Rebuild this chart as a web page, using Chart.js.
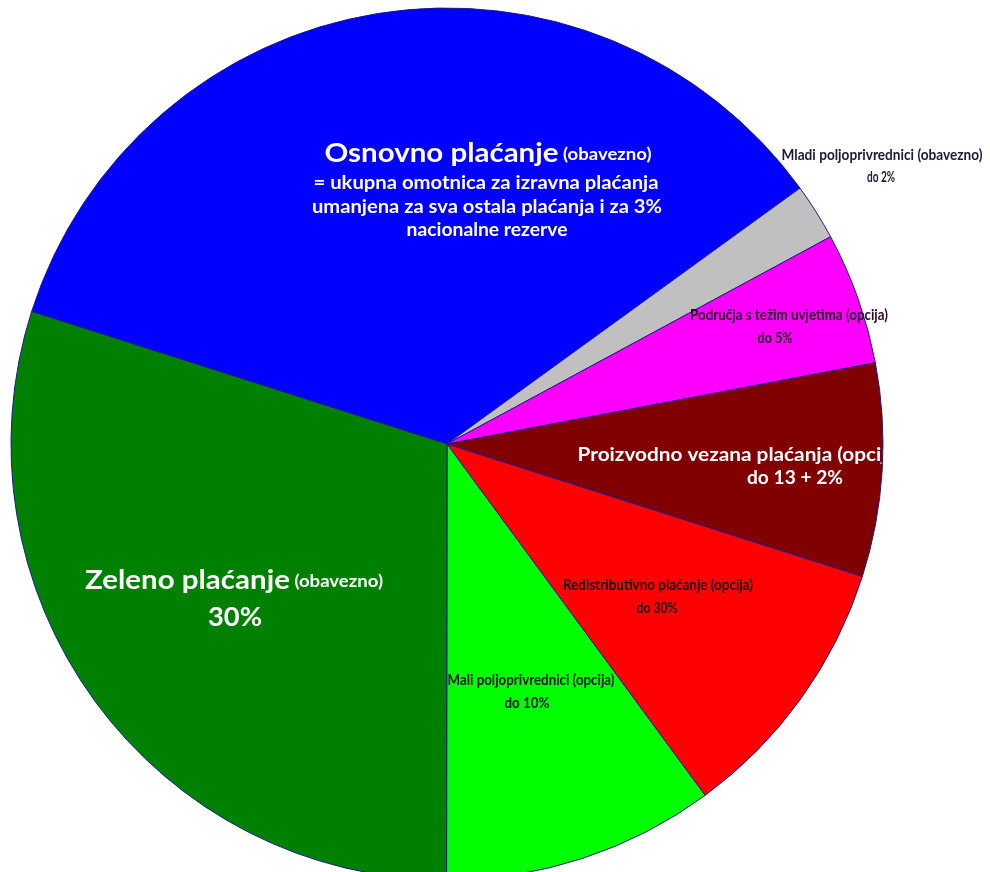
<!DOCTYPE html>
<html lang="hr">
<head>
  <meta charset="UTF-8">
  <title>Izravna plaćanja</title>
  <script src="https://cdn.jsdelivr.net/npm/chart.js"></script>
  <style>
    html, body { margin: 0; padding: 0; background: #fff; overflow: hidden; }
    .wrap { width: 990px; height: 888px; }
  </style>
</head>
<body>
  <div class="wrap">
    <canvas id="pieChart" width="990" height="888"></canvas>
  </div>
  <script>
    // Podaci (udjeli u %), redom u smjeru kazaljke na satu
    const kategorije = [
      'Osnovno plaćanje',
      'Mladi poljoprivrednici',
      'Područja s težim uvjetima',
      'Proizvodno vezana plaćanja',
      'Redistributivno plaćanje',
      'Mali poljoprivrednici',
      'Zeleno plaćanje'
    ];
    const udjeli = [35.1, 2.1, 4.9, 7.9, 10.0, 10.1, 29.9];
    const boje = ['#0000ff', '#c0c0c0', '#ff00ff', '#800000', '#ff0000', '#00ff00', '#008000'];

    // Tekstovi natpisa (po kategoriji), svaki redak = niz [tekst, stil]
    const natpisi = [
      [[['Osnovno plaćanje', 'big'], [' (obavezno)', 'small']],
       [['= ukupna omotnica za izravna plaćanja', 'mid']],
       [['umanjena za sva ostala plaćanja i za 3%', 'mid']],
       [['nacionalne rezerve', 'mid']]],
      [[['Mladi poljoprivrednici (obavezno)', 'cond']], [['do 2%', 'cond']]],
      [[['Područja s težim uvjetima (opcija)', 'cond']], [['do 5%', 'cond']]],
      [[['Proizvodno vezana plaćanja (opcija)', 'mid']], [['do 13 + 2%', 'mid']]],
      [[['Redistributivno plaćanje (opcija)', 'cond']], [['do 30%', 'cond']]],
      [[['Mali poljoprivrednici (opcija)', 'cond']], [['do 10%', 'cond']]],
      [[['Zeleno plaćanje', 'big'], [' (obavezno)', 'small']], [['30%', 'big']]]
    ];

    // Raspored natpisa: središte retka kao pomak od središta kruga (px) i širina retka
    const rasporedNatpisa = [
      { boja: '#ffffff', clip: false, retci: [[41, -291, 327], [39, -261, 345], [40, -237, 350], [40, -214, 161]] },
      { boja: '#1a1a36', clip: false, retci: [[435, -289, 201], [434, -267, 28]] },
      { boja: '#2a0a2a', clip: false, retci: [[342, -129, 198], [328, -106, 35]] },
      { boja: '#ffffff', clip: true, retci: [[293, 11, 325], [348, 34, 96]] },
      { boja: '#1e0000', clip: false, retci: [[211, 141, 190], [210, 164, 41]] },
      { boja: '#001a00', clip: false, retci: [[84, 236, 167], [80, 259, 45]] },
      { boja: '#ffffff', clip: false, retci: [[-213, 136, 298], [-212, 173, 54]] }
    ];

    const fontovi = {
      big: 'bold 27px Lato',
      small: 'bold 17px Lato',
      mid: 'bold 19px Lato',
      cond: 'bold 16px Lato'
    };

    const natpisiPlugin = {
      id: 'natpisi',
      afterDatasetsDraw(chart) {
        const ctx = chart.ctx;
        const arcs = chart.getDatasetMeta(0).data;
        const cx = arcs[0].x, cy = arcs[0].y, r = arcs[0].outerRadius;
        natpisi.forEach((linije, i) => {
          const L = rasporedNatpisa[i];
          ctx.save();
          if (L.clip) {
            ctx.beginPath();
            ctx.arc(cx, cy, r - 1, 0, Math.PI * 2);
            ctx.clip();
          }
          ctx.fillStyle = L.boja;
          ctx.textBaseline = 'middle';
          ctx.textAlign = 'left';
          linije.forEach((dijelovi, j) => {
            const [dx, dy, w] = L.retci[j];
            const sirine = dijelovi.map(([t, f]) => { ctx.font = fontovi[f]; return ctx.measureText(t).width; });
            const ukupno = sirine.reduce((a, b) => a + b, 0);
            const skala = w / ukupno;
            let x = cx + dx - w / 2;
            const y = cy + dy;
            dijelovi.forEach(([t, f], k) => {
              ctx.font = fontovi[f];
              ctx.save();
              ctx.translate(x, y + (f === 'small' ? 2 : 0));
              ctx.scale(skala, 1);
              ctx.fillText(t, 0, 0);
              ctx.restore();
              x += sirine[k] * skala;
            });
          });
          ctx.restore();
        });
      }
    };

    new Chart(document.getElementById('pieChart').getContext('2d'), {
      type: 'pie',
      data: {
        labels: kategorije,
        datasets: [{
          data: udjeli,
          backgroundColor: boje,
          borderColor: '#1a1a8a',
          borderWidth: 1
        }]
      },
      options: {
        responsive: false,
        animation: false,
        rotation: -72.3,
        radius: 436,
        layout: { padding: { left: 11, top: 8, right: 107, bottom: 8 } },
        plugins: {
          legend: { display: false },
          tooltip: { enabled: false }
        }
      },
      plugins: [natpisiPlugin]
    });
  </script>
</body>
</html>
